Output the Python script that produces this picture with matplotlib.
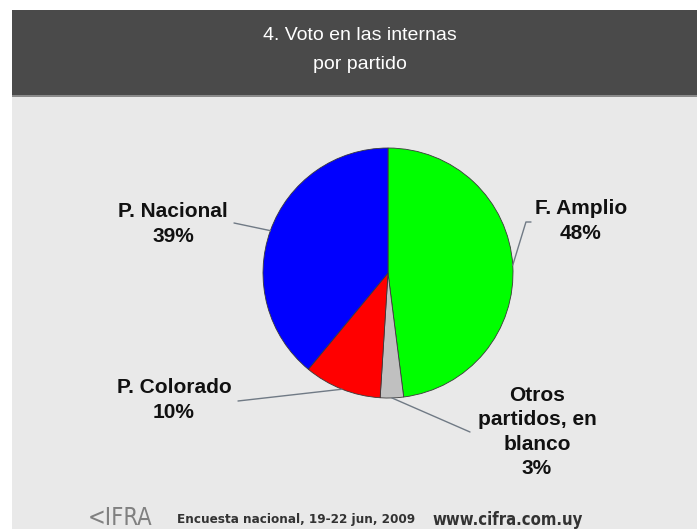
import numpy as np
import matplotlib.pyplot as plt
from matplotlib.patches import Rectangle

# Data (clockwise from 12 o'clock)
parties = ["F. Amplio", "Otros\npartidos, en\nblanco", "P. Colorado", "P. Nacional"]
shares = [48, 3, 10, 39]
colors = ["#00ff00", "#c0c0c0", "#ff0000", "#0000ff"]

# label positions in pixels (x, y from top) and leader-line end points
label_pos = [(581, 221), (537, 432), (174, 400), (173, 224)]
line_end = [(531, 222), (470, 432), (238, 401), (234, 223)]
conn = ["angle,angleA=0,angleB=73", "arc3", "arc3", "arc3"]

W, H = 697, 529
fig = plt.figure(figsize=(W / 100, H / 100), dpi=100)
fig.patch.set_facecolor("white")


def px(x, y):
    # pixel coords (top-left origin) -> figure fraction
    return x / W, 1 - y / H


# background panel and title bar
for y0, hgt, col in [(H, H - 95, "#e9e9e9"), (95, 85, "#4a4a4a"),
                     (96.5, 1.5, "#8a8a8a")]:
    fig.patches.append(Rectangle(px(12, y0), (W - 12) / W, hgt / H,
                                 transform=fig.transFigure, facecolor=col,
                                 edgecolor="none", zorder=-5))

fig.text(*px(360, 50), "4. Voto en las internas\npor partido", color="white",
         fontsize=14, ha="center", va="center", linespacing=1.95,
         family="Liberation Sans")

# pie axes: centre (388, 273), radius 125 px
cx, cy, r = 388, 273, 125
ax = fig.add_axes([(cx - r) / W, 1 - (cy + r) / H, 2 * r / W, 2 * r / H])
ax.patch.set_alpha(0)
wedges, _ = ax.pie(shares, colors=colors, startangle=90, counterclock=False,
                   wedgeprops=dict(edgecolor="#3a3a3a", linewidth=0.6))
ax.set_xlim(-1, 1)
ax.set_ylim(-1, 1)
ax.set_aspect("auto")
ax.axis("off")

for w, name, val, lp, le, cs in zip(wedges, parties, shares, label_pos,
                                    line_end, conn):
    ang = np.deg2rad((w.theta1 + w.theta2) / 2)
    xy = (np.cos(ang), np.sin(ang))
    ax.annotate("", xy=xy, xycoords="data",
                xytext=px(*le), textcoords="figure fraction",
                arrowprops=dict(arrowstyle="-", color="#707a85", lw=1.0,
                                shrinkA=0, shrinkB=0, connectionstyle=cs),
                annotation_clip=False)
    fig.text(*px(*lp), f"{name}\n{val}%", fontsize=15, fontweight="bold",
             ha="center", va="center", linespacing=1.35,
             family="Liberation Sans", color="#111111")

# footer
fig.text(*px(88, 518), "<IFRA", fontsize=17, color="#808080", ha="left",
         va="center", family="DejaVu Sans", fontstretch="condensed",
         fontweight="light")
fig.text(*px(177, 520), "Encuesta nacional, 19-22 jun, 2009",
         fontsize=9.6, fontweight="bold", color="#333333", ha="left",
         va="center", family="DejaVu Sans", fontstretch="condensed")
fig.text(*px(432, 520), "www.cifra.com.uy",
         fontsize=12, fontweight="bold", color="#333333", ha="left",
         va="center", family="DejaVu Sans", fontstretch="condensed")

fig.savefig("out.png", dpi=100, facecolor=fig.get_facecolor())
